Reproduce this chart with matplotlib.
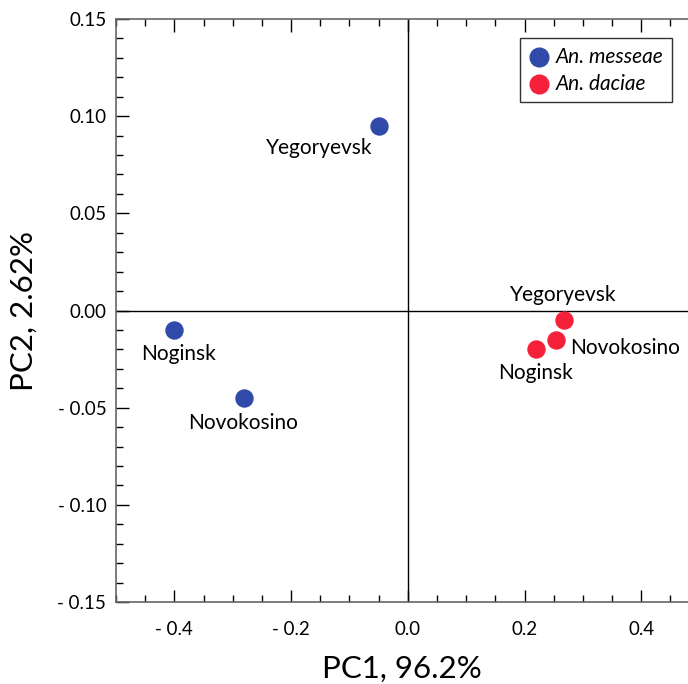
import matplotlib
matplotlib.use("Agg")
import matplotlib.pyplot as plt
from matplotlib.ticker import MultipleLocator, FuncFormatter

plt.rcParams['font.family'] = ['Lato', 'DejaVu Sans']

# ---------- data
sites          = ["Yegoryevsk", "Noginsk", "Novokosino"]
messeae_pc1    = [-0.05, -0.40, -0.28]
messeae_pc2    = [0.095, -0.010, -0.045]
daciae_pc1     = [0.268, 0.219, 0.253]
daciae_pc2     = [-0.005, -0.020, -0.015]
daciae_sites   = ["Yegoryevsk", "Noginsk", "Novokosino"]

# label offsets in points (text centre relative to marker)
messeae_offsets = [(-43, -16), (3, -17), (-1, -18)]
daciae_offsets  = [(-1, 18), (0, -17), (50, -6)]

BLUE = "#2f4aa8"
RED  = "#f5203a"

fig = plt.figure(figsize=(6.88, 6.84), dpi=100)
ax  = fig.add_axes([0.1686, 0.1199, 0.8314, 0.8523])

ax.axhline(0, color="black", linewidth=1.0, zorder=1)
ax.axvline(0, color="black", linewidth=1.0, zorder=1)

ax.scatter(messeae_pc1, messeae_pc2, s=150, color=BLUE, zorder=3, label="An. messeae")
ax.scatter(daciae_pc1, daciae_pc2, s=150, color=RED, zorder=3, label="An. daciae")

for name, x, y, off in zip(sites, messeae_pc1, messeae_pc2, messeae_offsets):
    ax.annotate(name, (x, y), xytext=off, textcoords="offset points",
                ha="center", va="center", fontsize=15)
for name, x, y, off in zip(daciae_sites, daciae_pc1, daciae_pc2, daciae_offsets):
    ax.annotate(name, (x, y), xytext=off, textcoords="offset points",
                ha="center", va="center", fontsize=15)

ax.set_xlim(-0.5, 0.48)
ax.set_ylim(-0.15, 0.15)

ax.xaxis.set_major_locator(MultipleLocator(0.2))
ax.xaxis.set_minor_locator(MultipleLocator(0.05))
ax.yaxis.set_major_locator(MultipleLocator(0.05))
ax.yaxis.set_minor_locator(MultipleLocator(0.01))

def fmt_x(v, pos):
    s = f"{abs(v):.1f}"
    return f"- {s}" if v < -1e-9 else s

def fmt_y(v, pos):
    s = f"{abs(v):.2f}"
    return f"- {s}" if v < -1e-9 else s

ax.xaxis.set_major_formatter(FuncFormatter(fmt_x))
ax.yaxis.set_major_formatter(FuncFormatter(fmt_y))

ax.tick_params(which="both", direction="in", top=True, right=False, labelsize=13.5, color="black")
ax.tick_params(which="major", length=9, width=1)
ax.tick_params(which="minor", length=5, width=1)
ax.tick_params(axis="x", pad=14)
ax.tick_params(axis="y", pad=7)

for side in ["left", "bottom", "top"]:
    ax.spines[side].set_color("#666666")
    ax.spines[side].set_linewidth(1.2)
ax.spines["right"].set_visible(False)

ax.set_xlabel("PC1, 96.2%", fontsize=22.5, labelpad=12)
ax.set_ylabel("PC2, 2.62%", fontsize=22.5, labelpad=14)

leg = ax.legend(loc="upper right", bbox_to_anchor=(0.972, 0.967), borderaxespad=0,
                prop={"style": "italic", "size": 15}, frameon=True, fancybox=False,
                edgecolor="black", handletextpad=0.3, borderpad=0.4,
                labelspacing=0.35, handlelength=1.0, markerscale=1.1)
leg.get_frame().set_linewidth(1.0)

fig.savefig("out.png", dpi=100)
